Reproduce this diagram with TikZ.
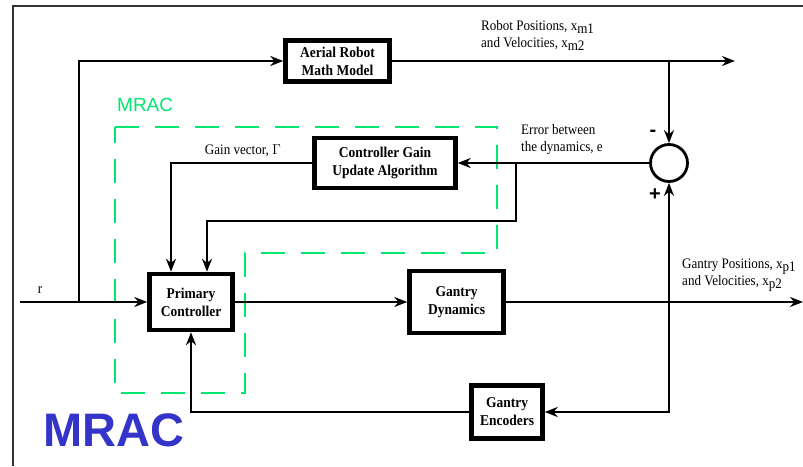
\documentclass[tikz,border=0pt]{standalone}
\usepackage{fontspec}
\setmainfont[FakeStretch=0.9]{Liberation Serif}
\newfontfamily\arialfont{Liberation Sans}
\usetikzlibrary{arrows.meta,positioning}
\definecolor{mracgreen}{RGB}{0,230,110}
\definecolor{mracblue}{RGB}{52,52,200}
\newcommand{\sub}[1]{\raisebox{-0.45ex}{#1}}

\begin{document}
\begin{tikzpicture}[x=1pt,y=-1pt,>={Stealth[length=13pt,width=10pt]}]
\tikzstyle{box}=[draw,line width=4.5pt,align=center,font=\bfseries\fontsize{15}{18}\selectfont,inner sep=2pt]
\tikzstyle{lbl}=[align=left,font=\fontsize{14.5}{17}\selectfont,inner sep=0pt]
\tikzstyle{wire}=[line width=2.7pt,->]
\useasboundingbox (0,0) rectangle (803,466);
% frame
\draw[line width=1.5pt,black!80] (13,466) -- (13,6) -- (803,6);
% MRAC region
\draw[mracgreen,line width=2.5pt,dash pattern=on 24pt off 16pt] (115,127) -- (497,127) -- (497,253) -- (245,253) -- (245,393) -- (115,393) -- cycle;
\node[anchor=west,text=mracgreen,font=\arialfont\fontsize{19}{19}\selectfont,inner sep=0pt] (mraclbl) at (117,105) {MRAC};
% blocks
\node[box,minimum width=104,minimum height=41] (aerial) at (337.5,61) {Aerial Robot\\Math Model};
\node[box,minimum width=141,minimum height=50] (gain) at (385,163) {Controller Gain\\Update Algorithm};
\node[box,minimum width=83,minimum height=56] (prim) at (191,302) {Primary\\Controller};
\node[box,minimum width=94,minimum height=62] (gdyn) at (456.5,302) {Gantry\\Dynamics};
\node[box,minimum width=71,minimum height=53] (genc) at (507,412) {Gantry\\Encoders};
\node[draw,circle,line width=2.8pt,minimum size=37,inner sep=0pt] (sum) at (669,163) {};
% branch points
\coordinate (rin) at (20,302);
\coordinate (rsplit) at (79,302);
\coordinate (xmout) at (735,61);
\coordinate (msplit) at (669,61);
\coordinate (esplit) at (516,163);
\coordinate (ecorner) at (516,221);
\coordinate (xpout) at (803,302);
\coordinate (psplit) at (669,302);
% connectors
\draw[wire] (rin) -- (prim.west);
\draw[wire] (rsplit) |- (aerial.west);
\draw[wire] (aerial.east) -- (xmout);
\draw[wire] (msplit) -- (sum.north);
\draw[wire] (sum.west) -- (gain.east);
\draw[wire] (gain.west) -| ([xshift=-20pt]prim.north);
\draw[wire] (esplit) -- (ecorner) -| ([xshift=16pt]prim.north);
\draw[wire] (prim.east) -- (gdyn.west);
\draw[wire] (gdyn.east) -- (xpout);
\draw[wire] (psplit) -- (sum.south);
\draw[wire] (psplit) |- (genc.east);
\draw[wire] (genc.west) -| (prim.south);
% labels
\node[lbl] (rlbl) at (40,290) {r};
\node[lbl,anchor=west] (xmlbl) at (481,35) {Robot Positions, x\sub{m1}\\and Velocities, x\sub{m2}};
\node[lbl,anchor=west] (elbl) at (521,140) {Error between\\the dynamics, e};
\node[lbl] (gamlbl) at (243,151) {Gain vector, $\Gamma$};
\node[lbl,anchor=west] (xplbl) at (682,275) {Gantry Positions, x\sub{p1}\\and Velocities, x\sub{p2}};
\node[font=\arialfont\bfseries\fontsize{20}{20}\selectfont,inner sep=0pt] (minus) at (653,133) {-};
\node[font=\arialfont\bfseries\fontsize{20}{20}\selectfont,inner sep=0pt] (plus) at (655,195) {+};
\node[anchor=west,text=mracblue,font=\arialfont\bfseries\fontsize{47}{47}\selectfont,inner sep=0pt] (mracbig) at (43,430) {MRAC};
\end{tikzpicture}
\end{document}
